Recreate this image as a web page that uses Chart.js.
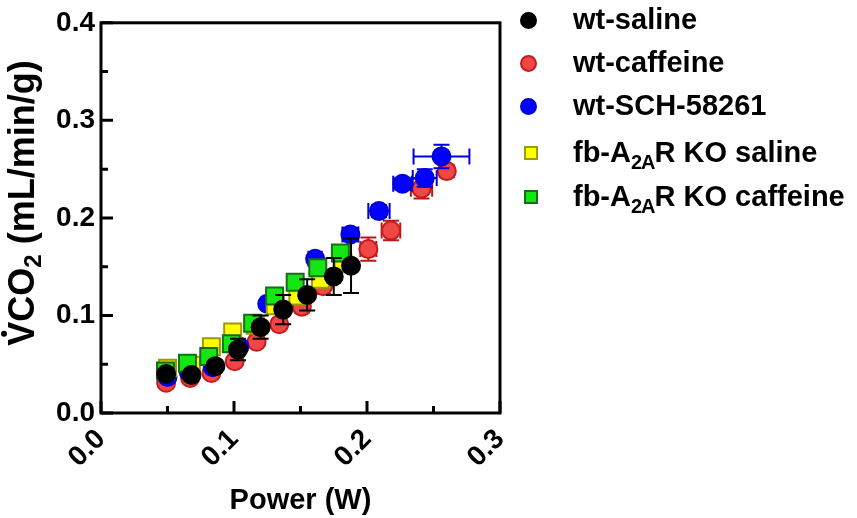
<!DOCTYPE html>
<html>
<head>
<meta charset="utf-8">
<script src="https://cdn.jsdelivr.net/npm/chart.js@4.4.0/dist/chart.umd.min.js"></script>
<style>
  body { margin: 0; background: #fff; }
  #wrap { position: relative; width: 857px; height: 518px; }
  #legend { position: absolute; left: 0; top: 0; font-family: "Liberation Sans", Arial, sans-serif; font-weight: bold; font-size: 29px; color: #000; }
  .item { position: absolute; left: 573px; white-space: nowrap; line-height: 29px; }
  .item sub { font-size: 20px; vertical-align: -7px; line-height: 0; letter-spacing: -1px; }
  .mk { position: absolute; box-sizing: border-box; border: 2px solid; }
</style>
</head>
<body>
<div id="wrap">
  <canvas id="chart" width="857" height="518"></canvas>
  <div id="legend"></div>
</div>
<script>
// wt-saline
const salX = [0.049, 0.068, 0.086, 0.103, 0.120, 0.137, 0.155, 0.175, 0.188];
const salY = [0.040, 0.039, 0.048, 0.065, 0.088, 0.106, 0.121, 0.140, 0.151];
const salXe = [0.002, 0.002, 0.002, 0.002, 0.002, 0.002, 0.002, 0.003, 0.003];
const salYe = [0.004, 0.003, 0.004, 0.011, 0.012, 0.015, 0.016, 0.019, 0.028];

// wt-caffeine
const cafX = [0.049, 0.067, 0.083, 0.1005, 0.117, 0.134, 0.151, 0.167, 0.201, 0.218, 0.241, 0.260];
const cafY = [0.031, 0.036, 0.041, 0.053, 0.073, 0.091, 0.109, 0.130, 0.168, 0.187, 0.230, 0.248];
const cafXe = [0.001, 0.001, 0.002, 0.002, 0.002, 0.003, 0.004, 0.004, 0.006, 0.007, 0.008, 0.004];
const cafYe = [0.003, 0.003, 0.003, 0.004, 0.004, 0.005, 0.006, 0.008, 0.012, 0.010, 0.010, 0.006];

// wt-SCH-58261
const schX = [0.050, 0.066, 0.084, 0.104, 0.125, 0.161, 0.1875, 0.209, 0.2267, 0.2434, 0.256];
const schY = [0.037, 0.042, 0.047, 0.068, 0.112, 0.158, 0.183, 0.207, 0.235, 0.241, 0.263];
const schXe = [0.002, 0.002, 0.002, 0.003, 0.004, 0.005, 0.006, 0.008, 0.007, 0.009, 0.021];
const schYe = [0.002, 0.002, 0.003, 0.003, 0.004, 0.005, 0.007, 0.006, 0.006, 0.009, 0.012];

// fb-A2AR KO saline
const koSalX = [0.050, 0.068, 0.083, 0.099, 0.116, 0.131, 0.148, 0.165, 0.182];
const koSalY = [0.046, 0.049, 0.068, 0.083, 0.090, 0.110, 0.120, 0.137, 0.153];
const koSalXe = [0.002, 0.002, 0.003, 0.003, 0.004, 0.004, 0.005, 0.005, 0.005];
const koSalYe = [0.003, 0.003, 0.004, 0.005, 0.005, 0.006, 0.006, 0.007, 0.008];

// fb-A2AR KO caffeine
const koCafX = [0.0485, 0.065, 0.081, 0.098, 0.114, 0.1305, 0.146, 0.163, 0.180];
const koCafY = [0.043, 0.051, 0.058, 0.071, 0.092, 0.120, 0.134, 0.149, 0.164];
const koCafXe = [0.002, 0.002, 0.002, 0.003, 0.003, 0.003, 0.004, 0.004, 0.004];
const koCafYe = [0.002, 0.003, 0.003, 0.003, 0.004, 0.004, 0.004, 0.005, 0.005];

const xTicks = [0, 0.1, 0.2, 0.3];
const yTicks = [0, 0.1, 0.2, 0.3, 0.4];

const pts = (xs, ys, xe, ye) => xs.map((v, i) => ({ x: v, y: ys[i], ex: xe[i], ey: ye[i] }));

const FONT = '"Liberation Sans", Arial, sans-serif';
Chart.defaults.font.family = FONT;
Chart.defaults.color = '#000';

// draws error bars under each dataset's markers
const errorBars = {
  id: 'errorBars',
  beforeDatasetDraw(chart, args) {
    const ds = chart.data.datasets[args.index];
    const ctx = chart.ctx, x = chart.scales.x, y = chart.scales.y;
    ctx.save();
    ctx.strokeStyle = ds.errColor;
    ctx.lineWidth = 2;
    ctx.beginPath();
    ds.data.forEach(p => {
      const px = x.getPixelForValue(p.x), py = y.getPixelForValue(p.y);
      const t = y.getPixelForValue(p.y + p.ey), b = y.getPixelForValue(p.y - p.ey);
      const l = x.getPixelForValue(p.x - p.ex), r = x.getPixelForValue(p.x + p.ex);
      ctx.moveTo(px, t); ctx.lineTo(px, b);
      ctx.moveTo(px - 8, t); ctx.lineTo(px + 8, t);
      ctx.moveTo(px - 8, b); ctx.lineTo(px + 8, b);
      ctx.moveTo(l, py); ctx.lineTo(r, py);
      ctx.moveTo(l, py - 8); ctx.lineTo(l, py + 8);
      ctx.moveTo(r, py - 8); ctx.lineTo(r, py + 8);
    });
    ctx.stroke();
    ctx.restore();
  }
};

// box around plot with inward ticks, plus the y title (needs a real subscript and dot)
const frame = {
  id: 'frame',
  afterDraw(chart) {
    const ctx = chart.ctx, a = chart.chartArea, x = chart.scales.x, y = chart.scales.y;
    ctx.save();
    ctx.strokeStyle = '#000';
    ctx.lineWidth = 3;
    ctx.strokeRect(a.left, a.top, a.right - a.left, a.bottom - a.top);
    ctx.beginPath();
    for (let k = 0; k <= 6; k++) {
      const px = x.getPixelForValue(k * 0.05);
      ctx.moveTo(px, a.bottom); ctx.lineTo(px, a.bottom - (k % 2 ? 7 : 12));
    }
    for (let k = 0; k <= 8; k++) {
      const py = y.getPixelForValue(k * 0.05);
      ctx.moveTo(a.left, py); ctx.lineTo(a.left + (k % 2 ? 7 : 12), py);
    }
    ctx.stroke();

    // y title: V̇CO2 (mL/min/g)
    const big = 'bold 36px ' + FONT, small = 'bold 24px ' + FONT;
    ctx.fillStyle = '#000';
    ctx.textBaseline = 'alphabetic';
    ctx.textAlign = 'left';
    ctx.font = big;
    const wV = ctx.measureText('V').width, wCO = ctx.measureText('CO').width, wRest = ctx.measureText(' (mL/min/g)').width;
    ctx.font = small;
    const w2 = ctx.measureText('2').width;
    const total = wV + wCO + w2 + wRest;
    ctx.translate(34, 203);
    ctx.rotate(-Math.PI / 2);
    let u = -total / 2;
    ctx.font = big;
    ctx.fillText('V', u, 0);
    ctx.beginPath();
    ctx.arc(u + wV / 2, -30, 3, 0, Math.PI * 2);
    ctx.fill();
    u += wV;
    ctx.fillText('CO', u, 0);
    u += wCO;
    ctx.font = small;
    ctx.fillText('2', u, 7);
    u += w2;
    ctx.font = big;
    ctx.fillText(' (mL/min/g)', u, 0);
    ctx.restore();
  }
};

new Chart(document.getElementById('chart'), {
  type: 'scatter',
  data: {
    datasets: [
      { label: 'wt-saline', data: pts(salX, salY, salXe, salYe), pointStyle: 'circle', pointRadius: 9,
        backgroundColor: '#000', borderColor: '#000', borderWidth: 2, errColor: '#000', order: 0 },
      { label: 'wt-caffeine', data: pts(cafX, cafY, cafXe, cafYe), pointStyle: 'circle', pointRadius: 9,
        backgroundColor: '#f04646', borderColor: '#c41c1c', borderWidth: 2, errColor: '#b81818', order: 4 },
      { label: 'wt-SCH-58261', data: pts(schX, schY, schXe, schYe), pointStyle: 'circle', pointRadius: 9,
        backgroundColor: '#0000ff', borderColor: '#0000d8', borderWidth: 2, errColor: '#0000d8', order: 3 },
      { label: 'fb-A2AR KO saline', data: pts(koSalX, koSalY, koSalXe, koSalYe), pointStyle: 'rect', pointRadius: 12,
        backgroundColor: '#ffff00', borderColor: '#9c9c00', borderWidth: 2, errColor: '#9c9c00', order: 2 },
      { label: 'fb-A2AR KO caffeine', data: pts(koCafX, koCafY, koCafXe, koCafYe), pointStyle: 'rect', pointRadius: 12,
        backgroundColor: '#14e614', borderColor: '#176e17', borderWidth: 2, errColor: '#176e17', order: 1 }
    ]
  },
  options: {
    responsive: false,
    animation: false,
    layout: { padding: { top: 13, right: 357, left: 0, bottom: 0 } },
    plugins: { legend: { display: false }, tooltip: { enabled: false } },
    scales: {
      x: {
        type: 'linear', min: 0, max: 0.3,
        afterBuildTicks: s => { s.ticks = xTicks.map(v => ({ value: v })); },
        afterFit: s => { s.height = 105; },
        ticks: { minRotation: 45, maxRotation: 45, padding: 10, font: { size: 28, weight: 'bold' },
          callback: v => v.toFixed(1) },
        grid: { display: false, drawTicks: false },
        border: { display: false },
        title: { display: true, text: 'Power (W)', font: { size: 29, weight: 'bold' }, padding: { top: 0, bottom: 0 } }
      },
      y: {
        type: 'linear', min: 0, max: 0.4,
        afterBuildTicks: s => { s.ticks = yTicks.map(v => ({ value: v })); },
        afterFit: s => { s.width = 101; },
        ticks: { padding: 6, font: { size: 28, weight: 'bold' }, callback: v => v.toFixed(1) },
        grid: { display: false, drawTicks: false },
        border: { display: false },
        title: { display: false }
      }
    }
  },
  plugins: [errorBars, frame]
});

// legend
const legendRows = [
  { html: 'wt-saline', y: 20, shape: 'circle', fill: '#000', line: '#000' },
  { html: 'wt-caffeine', y: 63, shape: 'circle', fill: '#f04646', line: '#c41c1c' },
  { html: 'wt-SCH-58261', y: 106, shape: 'circle', fill: '#0000ff', line: '#0000d8' },
  { html: 'fb-A<sub>2A</sub>R KO saline', y: 153, shape: 'rect', fill: '#ffff00', line: '#9c9c00' },
  { html: 'fb-A<sub>2A</sub>R KO caffeine', y: 197, shape: 'rect', fill: '#14e614', line: '#176e17' }
];
const leg = document.getElementById('legend');
legendRows.forEach(r => {
  const m = document.createElement('div');
  m.className = 'mk';
  const s = r.shape === 'circle' ? 17 : 14;
  m.style.width = s + 'px'; m.style.height = s + 'px';
  m.style.left = (r.shape === 'circle' ? 528 : 531) - s / 2 + 'px';
  m.style.top = r.y - s / 2 + 'px';
  m.style.background = r.fill; m.style.borderColor = r.line;
  if (r.shape === 'circle') m.style.borderRadius = '50%';
  leg.appendChild(m);
  const t = document.createElement('div');
  t.className = 'item';
  t.style.top = r.y - 15 + 'px';
  t.innerHTML = r.html;
  leg.appendChild(t);
});
</script>
</body>
</html>
